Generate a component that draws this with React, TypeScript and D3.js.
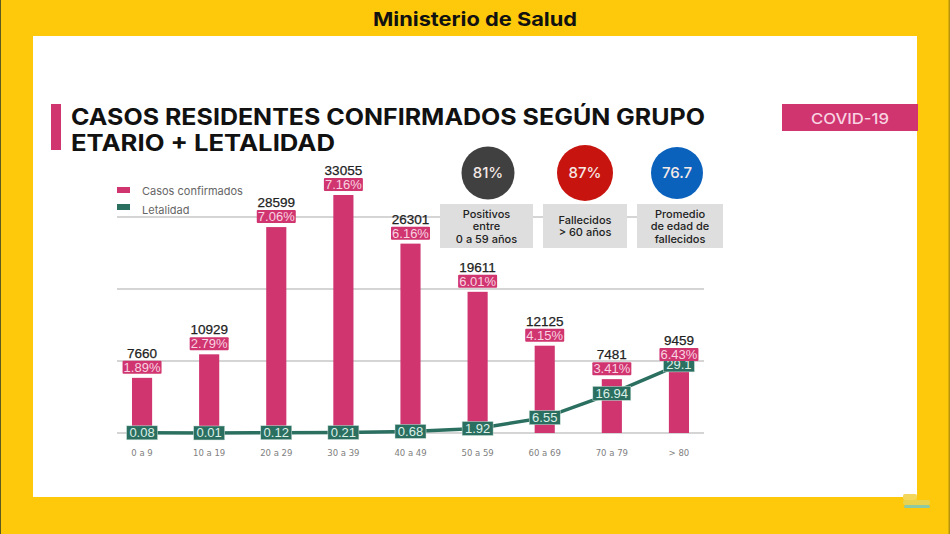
import React from 'react';
import * as d3 from 'd3';

const ageGroups = ['0 a 9', '10 a 19', '20 a 29', '30 a 39', '40 a 49', '50 a 59', '60 a 69', '70 a 79', '> 80'];
const casos = [7660, 10929, 28599, 33055, 26301, 19611, 12125, 7481, 9459];
const casosPct = ['1.89%', '2.79%', '7.06%', '7.16%', '6.16%', '6.01%', '4.15%', '3.41%', '6.43%'];
const letalidad = [0.08, 0.01, 0.12, 0.21, 0.68, 1.92, 6.55, 16.94, 29.1];
const gridValues = [0, 10000, 20000, 30000];

const statValues = ['81%', '87%', '76.7'];
const statColors = ['#404040', '#C8140F', '#0B62BD'];
const statLabels = [
  ['Positivos', 'entre', '0 a 59 años'],
  ['Fallecidos', '> 60 años'],
  ['Promedio', 'de edad de', 'fallecidos'],
];

const YELLOW = '#FDC90A';
const PINK = '#D0356F';
const GREEN = '#2B6F60';
const FONT = 'Inter, Roboto, sans-serif';
const NUM_FONT = '"Liberation Sans", Arial, sans-serif';

const x = d3.scaleBand<string>().domain(ageGroups).range([108.5, 712.5]).paddingInner(0.7).paddingOuter(0.35);
const y = d3.scaleLinear().domain([0, 30000]).range([433, 217]);
const yLet = d3.scaleLinear().domain([0, 30]).range([433, 362.8]);
const cx = (g: string) => x(g)! + x.bandwidth() / 2;

const line = d3.line<number>()
  .x((_, i) => cx(ageGroups[i]))
  .y(d => yLet(d));

const statCx = [488, 585, 677];
const statR = [26.5, 28, 26];
const statBox = [[440, 533], [543, 627], [637, 723]];

export default function App() {
  return (
    <svg width={950} height={534} style={{ position: 'absolute', left: 0, top: 0, display: 'block' }}>
      <rect width={950} height={534} fill={YELLOW} />
      <rect x={0} width={1} height={534} fill="#5d5a20" />
      <rect x={948.5} width={1.5} height={534} fill="#b8930c" />
      <rect x={33} y={36} width={884} height={461} fill="#fff" />

      <text x={373} y={26} textLength={204} lengthAdjust="spacingAndGlyphs" fontFamily={FONT} fontWeight={700} fontSize={19} fill="#111">Ministerio de Salud</text>

      <rect x={51} y={104} width={10} height={46} fill={PINK} />
      <text x={71} y={125} textLength={634} lengthAdjust="spacingAndGlyphs" fontFamily={FONT} fontWeight={700} fontSize={23} fill="#111">CASOS RESIDENTES CONFIRMADOS SEGÚN GRUPO</text>
      <text x={71} y={150.5} textLength={264} lengthAdjust="spacingAndGlyphs" fontFamily={FONT} fontWeight={700} fontSize={23} fill="#111">ETARIO + LETALIDAD</text>

      <rect x={782} y={104} width={136} height={27} fill={PINK} />
      <text x={811} y={124} textLength={78} lengthAdjust="spacingAndGlyphs" fontFamily={FONT} fontWeight={500} fontSize={15} fill="#F8D3E1">COVID-19</text>

      {/* pequeño logo abajo a la derecha */}
      <rect x={903} y={494} width={14} height={6} rx={2} fill="#F3D65A" />
      <rect x={903} y={500} width={27} height={5} rx={2} fill="#E8D24E" />
      <rect x={904} y={505} width={26} height={3} rx={1.5} fill="#8CC9A5" />

      {gridValues.map(v => (
        <line key={v} x1={117} x2={704} y1={y(v)} y2={y(v)} stroke="#ABABAB" strokeWidth={1.2} />
      ))}

      <rect x={117} y={187} width={13} height={6} fill={PINK} />
      <text x={142} y={194.5} fontFamily={FONT} fontSize={11} fill="#666">Casos confirmados</text>
      <rect x={117} y={204} width={13} height={6} fill={GREEN} />
      <text x={142} y={214} fontFamily={FONT} fontSize={11} fill="#666">Letalidad</text>

      {ageGroups.map((g, i) => (
        <rect key={g} x={x(g)} y={y(casos[i])} width={x.bandwidth()} height={y(0) - y(casos[i])} fill={PINK} />
      ))}

      <path d={line(letalidad)!} fill="none" stroke={GREEN} strokeWidth={3.5} />

      {ageGroups.map((g, i) => {
        const label = String(letalidad[i]);
        const w = label.length > 4 ? 38 : 31;
        return (
          <g key={g}>
            <rect x={cx(g) - w / 2} y={yLet(letalidad[i]) - 7} width={w} height={14} fill={GREEN} stroke="#CFE3DB" strokeWidth={0.5} />
            <text x={cx(g)} y={yLet(letalidad[i]) + 4.5} textAnchor="middle" fontFamily={NUM_FONT} fontSize={13} fill="#DDF0E8">{label}</text>
          </g>
        );
      })}

      {ageGroups.map((g, i) => {
        const top = y(casos[i]);
        return (
          <g key={g}>
            <text x={cx(g)} y={top - 20} textAnchor="middle" fontFamily={NUM_FONT} fontSize={13.5} stroke="#222" strokeWidth={0.25} fill="#222">{casos[i]}</text>
            <rect x={cx(g) - 19.5} y={top - 17} width={39} height={13} rx={1} fill={PINK} />
            <text x={cx(g)} y={top - 6} textAnchor="middle" fontFamily={NUM_FONT} fontSize={13} fill="#F8D3E1">{casosPct[i]}</text>
            <text x={cx(g)} y={456} textAnchor="middle" fontFamily={'"DejaVu Sans", sans-serif'} fontSize={8.5} fill="#808080">{g}</text>
          </g>
        );
      })}

      {statValues.map((v, i) => (
        <g key={v}>
          <circle cx={statCx[i]} cy={173} r={statR[i]} fill={statColors[i]} />
          <text x={statCx[i]} y={178} textAnchor="middle" fontFamily={FONT} fontWeight={500} fontSize={15} fill="#F5E9E6">{v}</text>
          <rect x={statBox[i][0]} y={204} width={statBox[i][1] - statBox[i][0]} height={44} fill="#DEDEDE" />
          {statLabels[i].map((t, j) => (
            <text key={t} x={(statBox[i][0] + statBox[i][1]) / 2} y={(statLabels[i].length === 3 ? 218 : 224) + j * 12.3} textAnchor="middle" fontFamily={FONT} fontWeight={500} fontSize={11} fill="#222">{t}</text>
          ))}
        </g>
      ))}
    </svg>
  );
}
